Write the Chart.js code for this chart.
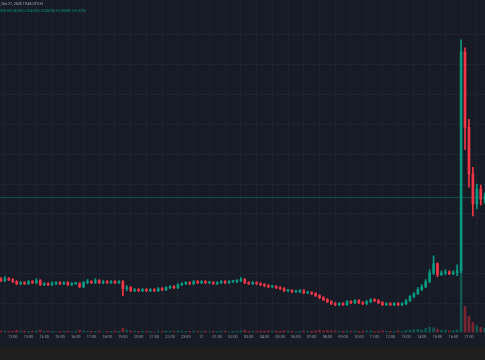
<!DOCTYPE html>
<html>
<head>
<meta charset="utf-8">
<script src="https://cdn.jsdelivr.net/npm/chart.js@4.4.1/dist/chart.umd.min.js"></script>
<style>
html, body { margin: 0; padding: 0; background: #1f1f1f; }
#wrap { position: relative; width: 485px; height: 347px; background: #171b26; overflow: hidden; }
canvas { position: absolute; left: 0; top: 0; }
.hdr { position: absolute; left: 0; font-family: Roboto, sans-serif; white-space: nowrap; line-height: 1; }
#t1 { top: 3px; font-size: 3.6px; color: #b2b5be; }
#t2 { top: 10px; font-size: 3.6px; color: #089981; }
</style>
</head>
<body>
<div id="wrap">
  <canvas id="chart" width="485" height="347"></canvas>
  <div class="hdr" id="t1">, Oct 21, 2025 19:45 UTC+2</div>
  <div class="hdr" id="t2">055 H0.04765 L0.04755 C0.04755 +0.00000 (+0.02%)</div>
</div>
<script>
// 15 min candles, time in hours from 12:00 (Oct 20)
const startHour = -0.75;
const stepHour = 0.25;
const firstOpen = 0.0480;

const closes = [
  0.0479, 0.0481, 0.0480, 0.0478, 0.0476, 0.0477, 0.0476, 0.0478, 0.0477, 0.0479,
  0.0475, 0.0476, 0.0475, 0.0476, 0.0477, 0.0476, 0.0477, 0.0475, 0.0476, 0.0476,
  0.0473, 0.0477, 0.0478, 0.0477, 0.0479, 0.0477, 0.0478, 0.0477, 0.0478, 0.0477,
  0.0478, 0.0471, 0.0472, 0.0469, 0.0470, 0.0469, 0.0470, 0.0469, 0.0470, 0.0469,
  0.0471, 0.0470, 0.0472, 0.0473, 0.0472, 0.0475, 0.0476, 0.0477, 0.0476, 0.0478,
  0.0477, 0.0478, 0.0477, 0.0477, 0.0476, 0.0477, 0.0478, 0.0477, 0.0478, 0.0478,
  0.0479, 0.0480, 0.0477, 0.0476, 0.0477, 0.0476, 0.0475, 0.0474, 0.0473, 0.0473,
  0.0472, 0.0471, 0.0469, 0.0469, 0.0468, 0.0468, 0.0469, 0.0467, 0.0467, 0.0466,
  0.0464, 0.0462, 0.0460, 0.0458, 0.0456, 0.0455, 0.0456, 0.0455, 0.0458, 0.0457,
  0.0459, 0.0457, 0.0456, 0.0458, 0.0460, 0.0459, 0.0457, 0.0455, 0.0456, 0.0455,
  0.0456, 0.0455, 0.0456, 0.0459, 0.0463, 0.0466, 0.0470, 0.0473, 0.0478, 0.0487,
  0.0496, 0.0485, 0.0487, 0.0488, 0.0486, 0.0487, 0.0489, 0.0709, 0.0633, 0.0586,
  0.0556, 0.0571, 0.0561, 0.0563
];

const highs = [
  0.0482, 0.0483, 0.0482, 0.0481, 0.0479, 0.0478, 0.0478, 0.0479, 0.0479, 0.0481,
  0.0480, 0.0477, 0.0477, 0.0478, 0.0478, 0.0478, 0.0478, 0.0478, 0.0477, 0.0477,
  0.0477, 0.0478, 0.0480, 0.0479, 0.0481, 0.0480, 0.0479, 0.0479, 0.0479, 0.0479,
  0.0479, 0.0479, 0.0474, 0.0473, 0.0471, 0.0471, 0.0471, 0.0471, 0.0471, 0.0471,
  0.0472, 0.0472, 0.0473, 0.0474, 0.0474, 0.0476, 0.0477, 0.0478, 0.0478, 0.0479,
  0.0479, 0.0479, 0.0479, 0.0478, 0.0478, 0.0478, 0.0479, 0.0479, 0.0479, 0.0479,
  0.0480, 0.0482, 0.0481, 0.0478, 0.0478, 0.0478, 0.0477, 0.0476, 0.0475, 0.0474,
  0.0474, 0.0473, 0.0472, 0.0470, 0.0470, 0.0469, 0.0470, 0.0470, 0.0468, 0.0468,
  0.0467, 0.0465, 0.0463, 0.0461, 0.0459, 0.0457, 0.0457, 0.0457, 0.0459, 0.0459,
  0.0460, 0.0460, 0.0458, 0.0459, 0.0461, 0.0461, 0.0460, 0.0458, 0.0457, 0.0457,
  0.0457, 0.0457, 0.0457, 0.0460, 0.0464, 0.0467, 0.0472, 0.0475, 0.0480, 0.0490,
  0.0504, 0.0497, 0.0489, 0.0490, 0.0489, 0.0489, 0.0495, 0.0721, 0.0713, 0.0641,
  0.0593, 0.0576, 0.0575, 0.0567
];

const lows = [
  0.0478, 0.0478, 0.0479, 0.0477, 0.0475, 0.0475, 0.0475, 0.0475, 0.0476, 0.0476,
  0.0474, 0.0474, 0.0474, 0.0474, 0.0475, 0.0475, 0.0475, 0.0474, 0.0474, 0.0475,
  0.0472, 0.0472, 0.0476, 0.0476, 0.0476, 0.0476, 0.0476, 0.0476, 0.0476, 0.0476,
  0.0476, 0.0464, 0.0469, 0.0468, 0.0468, 0.0468, 0.0468, 0.0468, 0.0468, 0.0468,
  0.0468, 0.0469, 0.0469, 0.0471, 0.0471, 0.0471, 0.0474, 0.0475, 0.0475, 0.0475,
  0.0476, 0.0476, 0.0476, 0.0476, 0.0475, 0.0475, 0.0476, 0.0476, 0.0476, 0.0477,
  0.0477, 0.0478, 0.0476, 0.0475, 0.0475, 0.0475, 0.0474, 0.0473, 0.0472, 0.0472,
  0.0471, 0.0470, 0.0468, 0.0468, 0.0467, 0.0467, 0.0467, 0.0466, 0.0466, 0.0465,
  0.0463, 0.0461, 0.0459, 0.0457, 0.0455, 0.0454, 0.0454, 0.0454, 0.0454, 0.0456,
  0.0456, 0.0456, 0.0455, 0.0455, 0.0457, 0.0458, 0.0456, 0.0454, 0.0454, 0.0454,
  0.0454, 0.0454, 0.0454, 0.0455, 0.0458, 0.0462, 0.0465, 0.0469, 0.0472, 0.0477,
  0.0485, 0.0483, 0.0484, 0.0485, 0.0485, 0.0485, 0.0484, 0.0487, 0.0611, 0.0573,
  0.0544, 0.0551, 0.0555, 0.0557
];

const volumes = [
  25, 20, 15, 20, 30, 15, 20, 15, 20, 25,
  30, 15, 20, 15, 10, 15, 20, 15, 10, 15,
  30, 25, 15, 20, 15, 20, 10, 15, 15, 20,
  15, 60, 35, 25, 20, 15, 20, 15, 15, 10,
  20, 15, 25, 20, 15, 25, 20, 15, 15, 20,
  15, 15, 20, 10, 15, 15, 20, 15, 10, 15,
  20, 25, 30, 20, 15, 15, 20, 20, 25, 15,
  20, 20, 25, 15, 15, 10, 15, 20, 15, 20,
  25, 30, 25, 30, 25, 20, 15, 20, 25, 15,
  20, 15, 20, 20, 25, 15, 20, 25, 15, 15,
  15, 20, 15, 30, 35, 40, 45, 40, 60, 75,
  70, 45, 35, 30, 25, 30, 40, 1000, 390, 240,
  150, 105, 75, 60
];

const tickHours = [0, 1, 2, 3, 4, 5, 6, 7, 8, 9, 10, 11, 12, 13, 14,
  15, 16, 17, 18, 19, 20, 21, 22, 23, 24, 25, 26, 27, 28, 29];
const tickLabels = ['12:00', '13:00', '14:00', '15:00', '16:00', '17:00', '18:00', '19:00',
  '20:00', '21:00', '22:00', '23:00', '21', '01:00', '02:00', '03:00', '04:00', '05:00',
  '06:00', '07:00', '08:00', '09:00', '10:00', '11:00', '12:00', '13:00', '14:00',
  '15:00', '16:00', '17:00'];
const gridLevels = [0.0456, 0.0486, 0.0516, 0.0546, 0.0576, 0.0606, 0.0636, 0.0666, 0.0696, 0.0726];

const opens = closes.map((c, i) => i === 0 ? firstOpen : closes[i - 1]);
const times = closes.map((c, i) => startHour + i * stepHour);

const UP = '#089981';
const DOWN = '#f23645';
const isUp = i => closes[i] >= opens[i];

const priceLine = {
    id: 'priceLine',
    beforeDatasetsDraw(chart) {
        const { ctx, chartArea, scales } = chart;
        const y = Math.round(scales.y.getPixelForValue(closes[closes.length - 1])) + 0.5;
        ctx.save();
        ctx.strokeStyle = 'rgba(8, 153, 129, 0.4)';
        ctx.lineWidth = 1;
        ctx.beginPath();
        ctx.moveTo(chartArea.left, y);
        ctx.lineTo(chartArea.right, y);
        ctx.stroke();
        ctx.restore();
    }
};

const ctx = document.getElementById('chart').getContext('2d');
new Chart(ctx, {
    type: 'bar',
    data: {
        datasets: [
            {
                label: 'Volume',
                yAxisID: 'v',
                order: 3,
                grouped: false,
                barThickness: 2,
                data: times.map((t, i) => ({ x: t, y: volumes[i] })),
                backgroundColor: c => isUp(c.dataIndex) ? 'rgba(8, 153, 129, 0.45)' : 'rgba(242, 54, 69, 0.45)'
            },
            {
                label: 'Wick',
                yAxisID: 'y',
                order: 2,
                grouped: false,
                barThickness: 1,
                data: times.map((t, i) => ({ x: t, y: [lows[i], highs[i]] })),
                backgroundColor: c => isUp(c.dataIndex) ? UP : DOWN
            },
            {
                label: 'Body',
                yAxisID: 'y',
                order: 1,
                grouped: false,
                barThickness: 2,
                minBarLength: 1,
                data: times.map((t, i) => ({ x: t, y: [opens[i], closes[i]] })),
                backgroundColor: c => isUp(c.dataIndex) ? UP : DOWN
            }
        ]
    },
    options: {
        responsive: false,
        animation: false,
        devicePixelRatio: 1,
        layout: { padding: { top: 0, left: 0, right: 0, bottom: 6 } },
        plugins: {
            legend: { display: false },
            tooltip: { enabled: false }
        },
        scales: {
            x: {
                type: 'linear',
                min: -0.81,
                max: 30.02,
                offset: false,
                afterBuildTicks: s => { s.ticks = tickHours.map(v => ({ value: v })); },
                ticks: {
                    callback: (v, i) => tickLabels[i],
                    font: { size: 3.8, family: 'Roboto' },
                    color: '#9598a1',
                    padding: 2,
                    maxRotation: 0,
                    autoSkip: false
                },
                grid: { color: '#1e2230', drawTicks: false },
                border: { display: false }
            },
            y: {
                position: 'right',
                min: 0.0427,
                max: 0.0761,
                afterBuildTicks: s => { s.ticks = gridLevels.map(v => ({ value: v })); },
                ticks: { display: false },
                grid: { color: '#1e2230', drawTicks: false },
                border: { display: false }
            },
            v: {
                display: false,
                min: 0,
                max: 5000
            }
        }
    },
    plugins: [priceLine]
});
</script>
</body>
</html>
